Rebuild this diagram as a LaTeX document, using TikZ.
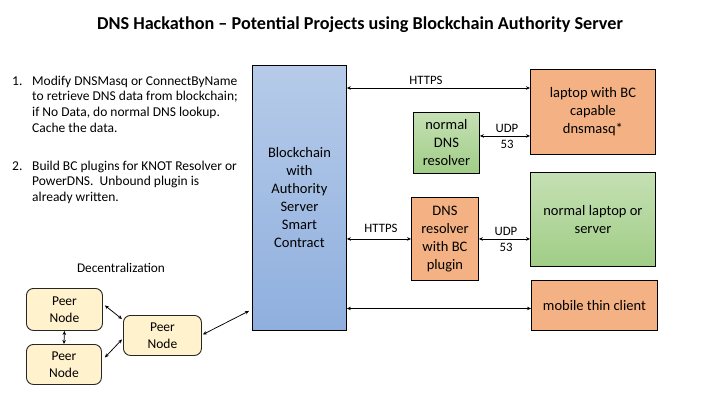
\documentclass[tikz,border=0pt]{standalone}
\usepackage{fontspec}
\setmainfont{Carlito}
\usetikzlibrary{arrows.meta,calc}
\definecolor{orangefill}{RGB}{244,177,131}
\definecolor{bluetop}{RGB}{182,203,233}
\definecolor{bluebot}{RGB}{143,175,222}
\definecolor{greentop}{RGB}{197,224,180}
\definecolor{greenbot}{RGB}{160,205,134}
\definecolor{peerfill}{RGB}{255,242,204}
\begin{document}
\begin{tikzpicture}[x=1pt,y=-1pt,
  box/.style={draw=black, line width=0.9pt, inner sep=0pt, align=center, anchor=north west,
    font=\fontsize{14.5}{18}\selectfont},
  orangebox/.style={box, fill=orangefill},
  greenbox/.style={box, top color=greentop, bottom color=greenbot},
  bluebox/.style={box, top color=bluetop, bottom color=bluebot},
  peer/.style={draw=black!85, line width=0.9pt, fill=peerfill, rounded corners=7pt, inner sep=0pt,
    align=center, anchor=north west, font=\fontsize{13.5}{17}\selectfont},
  arr/.style={line width=0.75pt, {Stealth[length=4pt,width=3.5pt]}-{Stealth[length=4pt,width=3.5pt]}},
  lbl/.style={font=\fontsize{12.8}{16}\selectfont, align=center, inner sep=0pt},
  listtxt/.style={anchor=north west, inner sep=0pt, font=\fontsize{13.5}{15.7}\selectfont}
]
\useasboundingbox (0,0) rectangle (720,405);
\fill[white] (0,0) rectangle (720,405);

% title
\node[font=\fontsize{18.2}{21}\bfseries\selectfont, inner sep=0pt] (title) at (360,25)
  {DNS Hackathon -- Potential Projects using Blockchain Authority Server};

% list
\node[listtxt] (l1) at (12,74) {\begin{tabular}{@{}p{20pt}@{}l@{}}
1.&Modify DNSMasq or ConnectByName\\
&to retrieve DNS data from blockchain;\\
&if No Data, do normal DNS lookup.\\
&Cache the data.\end{tabular}};
\node[listtxt] (l2) at (12,159) {\begin{tabular}{@{}p{20pt}@{}l@{}}
2.&Build BC plugins for KNOT Resolver or\\
&PowerDNS.\ \ Unbound plugin is\\
&already written.\end{tabular}};

% main boxes
\node[bluebox, minimum width=94pt, minimum height=265pt] (bc) at (252,65)
  {Blockchain\\with\\Authority\\Server\\Smart\\Contract};
\node[orangebox, minimum width=125pt, minimum height=85pt] (lap) at (530,69)
  {laptop with BC\\capable\\dnsmasq*};
\node[greenbox, minimum width=66pt, minimum height=61pt] (ndns) at (413,112)
  {normal\\DNS\\resolver};
\node[greenbox, minimum width=125pt, minimum height=94pt] (nlap) at (530,172)
  {normal laptop or\\server};
\node[orangebox, minimum width=67pt, minimum height=83pt] (dbc) at (411,197)
  {DNS\\resolver\\with BC\\plugin};
\node[orangebox, minimum width=126pt, minimum height=50pt] (mob) at (531,280)
  {mobile thin client};

% peer nodes
\node[lbl, font=\fontsize{13.3}{16}\selectfont] (dec) at (121,268) {Decentralization};
\node[peer, minimum width=76pt, minimum height=42pt] (p1) at (26,288) {Peer\\Node};
\node[peer, minimum width=75pt, minimum height=40pt] (p2) at (26,344) {Peer\\Node};
\node[peer, minimum width=78pt, minimum height=40pt] (p3) at (123,315) {Peer\\Node};

% connectors
\draw[arr] (bc.east |- {$(lap.north west)+(0,19)$}) -- ($(lap.north west)+(0,19)$);
\node[lbl] (h1) at (426,80) {HTTPS};
\draw[arr] ($(ndns.east)+(0,-7)$) -- (lap.west |- {$(ndns.east)+(0,-7)$});
\node[lbl] (u1) at (507,136) {UDP\\53};
\draw[arr] (bc.east |- dbc.west) -- (dbc.west);
\node[lbl] (h2) at (381,228) {HTTPS};
\draw[arr] (dbc.east) -- (nlap.west |- dbc.east);
\node[lbl] (u2) at (506,239) {UDP\\53};
\draw[arr] (bc.east |- {$(mob.west)+(0,3)$}) -- ($(mob.west)+(0,3)$);

\draw[arr] ([shift={(2,-4)}]p1.east) -- ([shift={(-1,4)}]p3.north west);
\draw[arr] ([shift={(3,-7)}]p2.east) -- ([shift={(-1,4)}]p3.west);
\draw[arr] (p1.south) -- (p2.north);
\draw[arr] ([shift={(1,-1)}]p3.east) -- ([shift={(-3,113)}]bc.west);
\end{tikzpicture}
\end{document}
